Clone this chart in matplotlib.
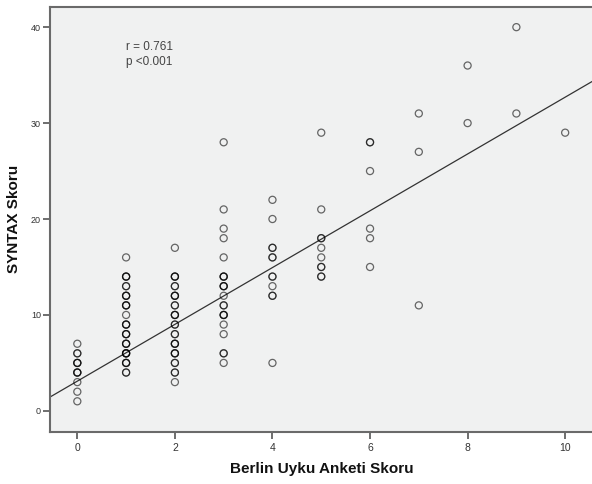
import matplotlib
matplotlib.use("Agg")
import matplotlib.pyplot as plt
import numpy as np

# Data: Berlin score (x) and SYNTAX score (y), repeated values as duplicates
x0 = [0] * 12
y0 = [7, 6, 6, 5, 5, 5, 4, 4, 4, 3, 2, 1]
x1 = [1] * 31
y1 = [16, 14, 14, 14, 13, 13, 12, 12, 12, 11, 11, 11, 10, 9, 9, 9, 8, 8, 8,
      7, 7, 7, 6, 6, 6, 6, 5, 5, 5, 4, 4]
x2 = [2] * 29
y2 = [17, 14, 14, 14, 13, 13, 12, 12, 12, 11, 11, 10, 10, 10, 9, 9, 8, 8,
      7, 7, 7, 6, 6, 6, 5, 5, 4, 4, 3]
x3 = [3] * 22
y3 = [28, 21, 19, 18, 16, 14, 14, 14, 13, 13, 13, 12, 11, 11, 10, 10, 10, 9,
      8, 6, 6, 5]
x4 = [4] * 12
y4 = [22, 20, 17, 17, 16, 16, 14, 14, 13, 12, 12, 5]
x5 = [5] * 10
y5 = [29, 21, 18, 18, 17, 16, 15, 15, 14, 14]
x6 = [6] * 6
y6 = [28, 28, 25, 19, 18, 15]
x7 = [7] * 3
y7 = [31, 27, 11]
x8 = [8] * 2
y8 = [36, 30]
x9 = [9] * 2
y9 = [40, 31]
x10 = [10]
y10 = [29]

berlin = np.array(x0 + x1 + x2 + x3 + x4 + x5 + x6 + x7 + x8 + x9 + x10)
syntax = np.array(y0 + y1 + y2 + y3 + y4 + y5 + y6 + y7 + y8 + y9 + y10)

# Fit line
fit_intercept = 3.1
fit_slope = 2.96

x_ticks = [0, 2, 4, 6, 8, 10]
y_ticks = [0, 10, 20, 30, 40]
stat_text = "r = 0.761\np <0.001"
xlabel = "Berlin Uyku Anketi Skoru"
ylabel = "SYNTAX Skoru"

plt.rcParams['font.family'] = ['Liberation Sans', 'DejaVu Sans']

fig = plt.figure(figsize=(5.92, 4.84), dpi=100)
ax = fig.add_axes([50 / 592, 52 / 484, 1 - 50 / 592, (432 - 7) / 484])
ax.set_facecolor('#F0F1F1')

xmin, xmax = -0.56, 10.55
ax.set_xlim(xmin, xmax)
ax.set_ylim(-2.2, 42.1)

ax.scatter(berlin, syntax, s=26, facecolors='none', edgecolors='#000000',
           linewidths=0.9, alpha=0.58, zorder=3)

xs = np.array([xmin, xmax])
ax.plot(xs, fit_intercept + fit_slope * xs, color='#333333', lw=0.9, zorder=2)

ax.set_xticks(x_ticks)
ax.set_yticks(y_ticks)
ax.tick_params(axis='x', direction='out', length=5, width=1.2, color='#555555',
               labelsize=7.5, labelcolor='#333333', pad=3)
ax.tick_params(axis='y', direction='out', length=5, width=1.2, color='#555555',
               labelsize=6.5, labelcolor='#333333', pad=1.5)

for side in ['left', 'bottom', 'top']:
    ax.spines[side].set_color('#6a6a6a')
    ax.spines[side].set_linewidth(1.5)
ax.spines['right'].set_visible(False)

ax.text(1.0, 38.6, stat_text, fontsize=8.5, color='#444444', va='top',
        ha='left', linespacing=1.35)

fig.text(322 / 592, 1 - 469 / 484, xlabel, fontsize=11, fontweight='bold',
         ha='center', va='center', color='#111111')
fig.text(14 / 592, 1 - 219 / 484, ylabel, fontsize=11, fontweight='bold',
         ha='center', va='center', rotation=90, color='#111111')

fig.savefig('out.png', dpi=100)
